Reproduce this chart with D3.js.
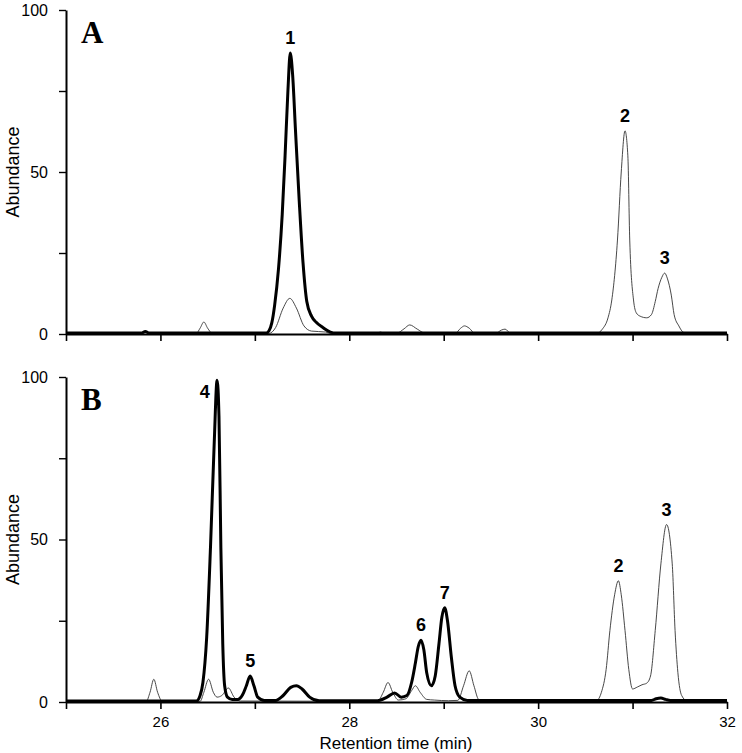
<!DOCTYPE html>
<html>
<head>
<meta charset="utf-8">
<script src="https://cdn.jsdelivr.net/npm/d3@7"></script>
<style>
  body { margin: 0; background: #fff; }
  svg { display: block; }
</style>
</head>
<body>
<div id="chart"></div>
<script>
// chromatogram traces: [retention time (min), abundance]
const traceA_bold = [
  [25, 0.3], [25.8, 0.3], [25.84, 0.8], [25.88, 0.3], [27.12, 0.3], [27.15, 1],
  [27.18, 3.5], [27.21, 9], [27.25, 20], [27.29, 37], [27.32, 55], [27.35, 75],
  [27.375, 86.7], [27.4, 80], [27.43, 63], [27.47, 41], [27.51, 22], [27.55, 10],
  [27.6, 5.5], [27.65, 3.6], [27.72, 2], [27.8, 0.6], [27.86, 0.3], [32, 0.3]
]
const traceA_thin = [
  [25, 0.2], [25.8, 0.2], [25.84, 0.6], [25.88, 0.2], [26.38, 0.2], [26.42, 1.8],
  [26.46, 3.7], [26.5, 1.8], [26.55, 0.2], [27.15, 0.2], [27.22, 2], [27.3, 8],
  [27.37, 11], [27.44, 8], [27.52, 2.5], [27.6, 0.9], [27.75, 0.6], [27.8, 0.2],
  [28.28, 0.2], [28.33, 0.6], [28.38, 0.2], [28.5, 0.2], [28.58, 1.6], [28.64, 2.8],
  [28.72, 1.5], [28.8, 0.3], [29.12, 0.2], [29.18, 1.8], [29.22, 2.5], [29.27, 1.8],
  [29.33, 0.2], [29.55, 0.2], [29.61, 1.2], [29.65, 1.5], [29.71, 0.2], [30.62, 0.2],
  [30.68, 1.5], [30.74, 5], [30.78, 10.5], [30.84, 29], [30.88, 50], [30.92, 62.7],
  [30.95, 55], [30.97, 29], [31.01, 10.5], [31.04, 6.5], [31.08, 5.5], [31.15, 5],
  [31.2, 6], [31.24, 10], [31.27, 14], [31.31, 17.5], [31.34, 18.8], [31.37, 17],
  [31.41, 12], [31.44, 6], [31.49, 2.5], [31.54, 0.5], [31.6, 0.2], [32, 0.2]
]
const traceB_bold = [
  [25, 0.3], [26.38, 0.3], [26.42, 2], [26.45, 6], [26.49, 20], [26.53, 47.5],
  [26.57, 80], [26.6, 99], [26.62, 88], [26.64, 47.5], [26.66, 18], [26.68, 5],
  [26.71, 1.5], [26.76, 0.8], [26.82, 0.8], [26.87, 2.2], [26.91, 5], [26.95, 8],
  [26.99, 5], [27.03, 1.5], [27.1, 0.5], [27.22, 0.5], [27.3, 2], [27.38, 4.5],
  [27.44, 5], [27.5, 4], [27.58, 1.5], [27.68, 0.4], [28.3, 0.4], [28.4, 1.5],
  [28.48, 2.8], [28.55, 1.5], [28.61, 2], [28.66, 6], [28.7, 12], [28.73, 17],
  [28.76, 19], [28.79, 16], [28.82, 9], [28.87, 5], [28.91, 8], [28.95, 18],
  [28.98, 26], [29.01, 29], [29.04, 25], [29.08, 14], [29.12, 5], [29.17, 1.5],
  [29.25, 0.5], [31.2, 0.5], [31.25, 1], [31.3, 1.2], [31.35, 0.8], [31.4, 0.5], [32, 0.5]
]
const traceB_thin = [
  [25, 0.2], [25.85, 0.2], [25.89, 3], [25.93, 7], [25.97, 3], [26.02, 0.2],
  [26.42, 0.2], [26.46, 3], [26.51, 7], [26.56, 3], [26.6, 1.5], [26.65, 2],
  [26.72, 4.3], [26.78, 1.5], [26.85, 0.3], [28.3, 0.2], [28.36, 3], [28.41, 6],
  [28.46, 3], [28.52, 0.6], [28.6, 1], [28.66, 3.5], [28.7, 5], [28.75, 3],
  [28.82, 0.8], [28.9, 0.6], [29.05, 0.4], [29.15, 0.5], [29.21, 5], [29.27, 9.6],
  [29.32, 5], [29.37, 0.8], [29.45, 0.3], [30.62, 0.5], [30.67, 3], [30.72, 10],
  [30.76, 22], [30.81, 33], [30.85, 37.3], [30.88, 33], [30.92, 22], [30.96, 10],
  [31.0, 4], [31.05, 4.6], [31.1, 5.3], [31.15, 5.8], [31.19, 8], [31.24, 22],
  [31.3, 42.5], [31.36, 54.6], [31.42, 42.5], [31.45, 22], [31.48, 9], [31.52, 2],
  [31.58, 0.3], [32, 0.3]
]

// numbered peak labels: [label, time, abundance where the number sits]
const peaksA = [["1", 27.375, 86.7], ["2", 30.92, 62.7], ["3", 31.34, 18.8]]
const peaksB = [["4", 26.47, 90.8], ["5", 26.95, 8], ["6", 28.76, 19], ["7", 29.01, 29],
                ["2", 30.85, 37.3], ["3", 31.36, 54.6]]

const xTicks = [25, 26, 27, 28, 29, 30, 31, 32]
const xTickLabels = [26, 28, 30, 32]
const yTicks = [0, 25, 50, 75, 100]
const yTickLabels = [0, 50, 100]

const W = 742, H = 753
const SANS = "Liberation Sans, Arial, sans-serif"

const svg = d3.select("#chart").append("svg")
  .attr("width", W)
  .attr("height", H)

const x = d3.scaleLinear().domain([25, 32]).range([66, 727])

// two stacked panels
const panels = [
  { name: "A", top: 10, bottom: 334, bold: traceA_bold, thin: traceA_thin, peaks: peaksA, labels: false },
  { name: "B", top: 377, bottom: 702, bold: traceB_bold, thin: traceB_thin, peaks: peaksB, labels: true }
]

panels.forEach(p => {
  const y = d3.scaleLinear().domain([0, 100]).range([p.bottom, p.top])
  const g = svg.append("g")

  const line = d3.line()
    .x(d => x(d[0]))
    .y(d => y(d[1]))
    .curve(d3.curveMonotoneX)

  g.append("path")
    .datum(p.thin)
    .attr("fill", "none")
    .attr("stroke", "#333")
    .attr("stroke-width", 0.9)
    .attr("d", line)

  g.append("path")
    .datum(p.bold)
    .attr("fill", "none")
    .attr("stroke", "#000")
    .attr("stroke-width", 3)
    .attr("stroke-linejoin", "round")
    .attr("d", line)

  // x axis
  const xAxis = d3.axisBottom(x)
    .tickValues(xTicks)
    .tickSize(7)
    .tickSizeOuter(0)
    .tickPadding(7)
    .tickFormat(d => (p.labels && xTickLabels.includes(d)) ? d : "")
  const xg = g.append("g")
    .attr("transform", `translate(0,${p.bottom})`)
    .call(xAxis)
  xg.select(".domain").attr("stroke-width", 2.2)
  xg.selectAll(".tick line").attr("stroke-width", 1.6)
  xg.selectAll("text").attr("font-size", "15px").attr("fill", "#000")
    .attr("font-family", SANS)

  // y axis
  const yAxis = d3.axisLeft(y)
    .tickValues(yTicks)
    .tickSize(7)
    .tickSizeOuter(0)
    .tickPadding(11)
    .tickFormat(d => yTickLabels.includes(d) ? d : "")
  const yg = g.append("g")
    .attr("transform", `translate(${x(25)},0)`)
    .call(yAxis)
  yg.select(".domain").attr("stroke-width", 2)
  yg.selectAll(".tick line").attr("stroke-width", 1.4)
  yg.selectAll("text").attr("font-size", "16px").attr("fill", "#000")
    .attr("font-family", SANS)

  // y label
  g.append("text")
    .attr("transform", `translate(19,${(p.top + p.bottom) / 2}) rotate(-90)`)
    .attr("text-anchor", "middle")
    .attr("font-family", SANS)
    .attr("font-size", "18px")
    .text("Abundance")

  // panel letter
  g.append("text")
    .attr("x", 81)
    .attr("y", p.top + 33)
    .attr("font-family", "Liberation Serif, Times New Roman, serif")
    .attr("font-weight", "bold")
    .attr("font-size", "31px")
    .text(p.name)

  // peak numbers
  g.selectAll(".peak")
    .data(p.peaks)
    .enter().append("text")
    .attr("x", d => x(d[1]))
    .attr("y", d => y(d[2]) - 9)
    .attr("text-anchor", "middle")
    .attr("font-family", SANS)
    .attr("font-weight", "bold")
    .attr("font-size", "18px")
    .text(d => d[0])
})

// x label
svg.append("text")
  .attr("x", 396)
  .attr("y", 749)
  .attr("text-anchor", "middle")
  .attr("font-family", SANS)
  .attr("font-size", "17px")
  .text("Retention time (min)")
</script>
</body>
</html>
